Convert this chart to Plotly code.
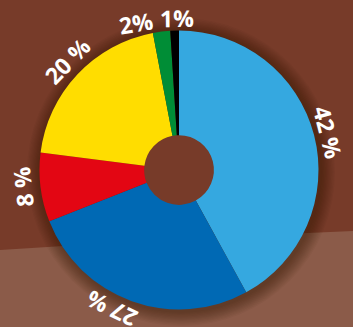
import math
import plotly.graph_objects as go

# Share of each segment, clockwise from 12 o'clock
labels = ["Segment A", "Segment B", "Segment C", "Segment D", "Segment E", "Segment F"]
values = [42, 27, 8, 20, 2, 1]
value_texts = ["42 %", "27 %", "8 %", "20 %", "2%", "1%"]
colors = ["#35A8E0", "#0069B4", "#E30613", "#FFDD00", "#008D36", "#000000"]

W, H = 353, 327
CX, CY, R = 179, 170, 139.5          # pie centre and radius in pixels (y from top)
HOLE = 0.25

BG = "#773B29"
BAND = "#8B5B49"


def circle(cx, cy, r, fill):
    return dict(
        type="circle", xref="paper", yref="paper", layer="below",
        x0=(cx - r) / W, x1=(cx + r) / W,
        y0=(H - cy - r) / H, y1=(H - cy + r) / H,
        fillcolor=fill, line=dict(width=0),
    )


# pie domain as a square box in paper coordinates
dom_x = [(CX - R) / W, (CX + R) / W]
dom_y = [(H - CY - R) / H, (H - CY + R) / H]

fig = go.Figure(go.Pie(
    labels=labels, values=values, sort=False, direction="clockwise", rotation=0,
    hole=HOLE, marker=dict(colors=colors, line=dict(width=0)),
    textinfo="none", hoverinfo="label+percent", showlegend=False,
    domain=dict(x=dom_x, y=dom_y),
))

shapes = []
# lighter lower band across the background
shapes.append(dict(
    type="path", xref="paper", yref="paper", layer="below",
    path=f"M 0 {1 - 250 / H} Q {180 / W} {1 - 238 / H} 1 {1 - 231 / H} L 1 0 L 0 0 Z",
    fillcolor=BAND, line=dict(width=0),
))
# soft shadow around the disc
for k in range(12, 0, -1):
    shapes.append(circle(CX + 2, CY + 2, R + k * 1.2, "rgba(40,15,8,0.045)"))
# the centre hole shows the plain background
shapes.append(circle(CX, CY, R * HOLE + 1, BG))

# labels outside the ring, oriented along the circle
total = sum(values)
angle_shift = [0, 6, 1, 1, -9, 1]      # nudges for crowded tiny slices
label_r = [154, 155, 157, 156, 153, 152]
annotations = []
start = 0.0
for v, txt, dshift, lr in zip(values, value_texts, angle_shift, label_r):
    span = 360.0 * v / total
    mid = start + span / 2 + dshift
    start += span
    t = math.radians(mid)
    px = CX + lr * math.sin(t)
    py = CY - lr * math.cos(t)
    ang = mid if mid <= 180 else mid - 360
    if abs(ang) < 30:
        ang = ang * 0.6
    annotations.append(dict(
        x=px / W, y=1 - py / H, xref="paper", yref="paper",
        text=f"<b>{txt}</b>", showarrow=False, textangle=ang,
        xanchor="center", yanchor="middle",
        font=dict(family="Open Sans", size=23, color="white"),
    ))

fig.update_layout(
    width=W, height=H, margin=dict(l=0, r=0, t=0, b=0),
    paper_bgcolor=BG, plot_bgcolor=BG,
    shapes=shapes, annotations=annotations,
)

fig.write_html("out.html")
